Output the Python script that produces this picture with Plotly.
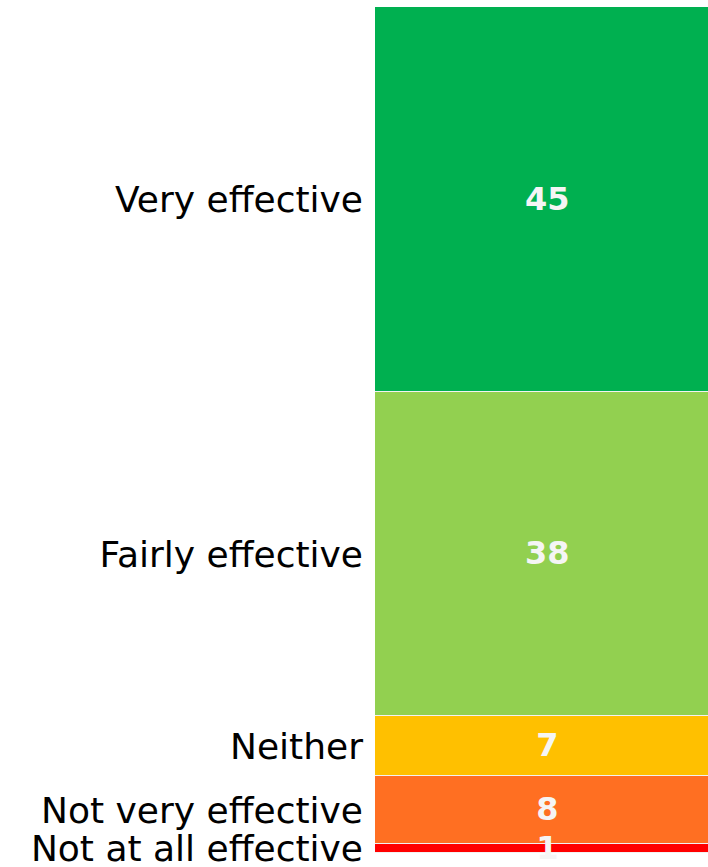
import plotly.graph_objects as go

categories = ["Very effective", "Fairly effective", "Neither", "Not very effective", "Not at all effective"]
values = [45, 38, 7, 8, 1]
colors = ["#00B050", "#92D050", "#FFC000", "#FF6F22", "#FF0000"]

fig = go.Figure()
for cat, val, col in zip(categories, values, colors):
    fig.add_trace(go.Bar(
        x=[""], y=[val], name=cat,
        marker=dict(color=col, line=dict(color="#F2F2F2", width=1.5)),
        text=[str(val)], textposition="inside", insidetextanchor="middle",
        textangle=0,
        textfont=dict(family="DejaVu Sans", size=32, color="#F5F5F5", weight="bold"),
        constraintext="none", cliponaxis=False,
        hoverinfo="skip",
    ))

# tick positions at centers of each stacked segment
centers = []
acc = 0
for v in values:
    centers.append(acc + v / 2)
    acc += v

fig.update_layout(
    barmode="stack", bargap=0,
    width=721, height=867,
    margin=dict(l=375, r=0, t=7, b=14, autoexpand=False),
    paper_bgcolor="white", plot_bgcolor="white",
    showlegend=False,
    font=dict(family="DejaVu Sans", color="black"),
    xaxis=dict(visible=False, automargin=False),
    yaxis=dict(range=[acc, 0], tickvals=centers, ticktext=categories,
               automargin=False,
               showgrid=False, zeroline=False, showline=False,
               tickfont=dict(size=36, family="DejaVu Sans", color="black"),
               ticks="", ticklabelstandoff=11, ticklabeloverflow="allow"),
)
fig.write_html(
    "out.html",
    config={"displayModeBar": False},
    post_script="document.body.style.margin='0';document.body.style.overflow='hidden';",
)
